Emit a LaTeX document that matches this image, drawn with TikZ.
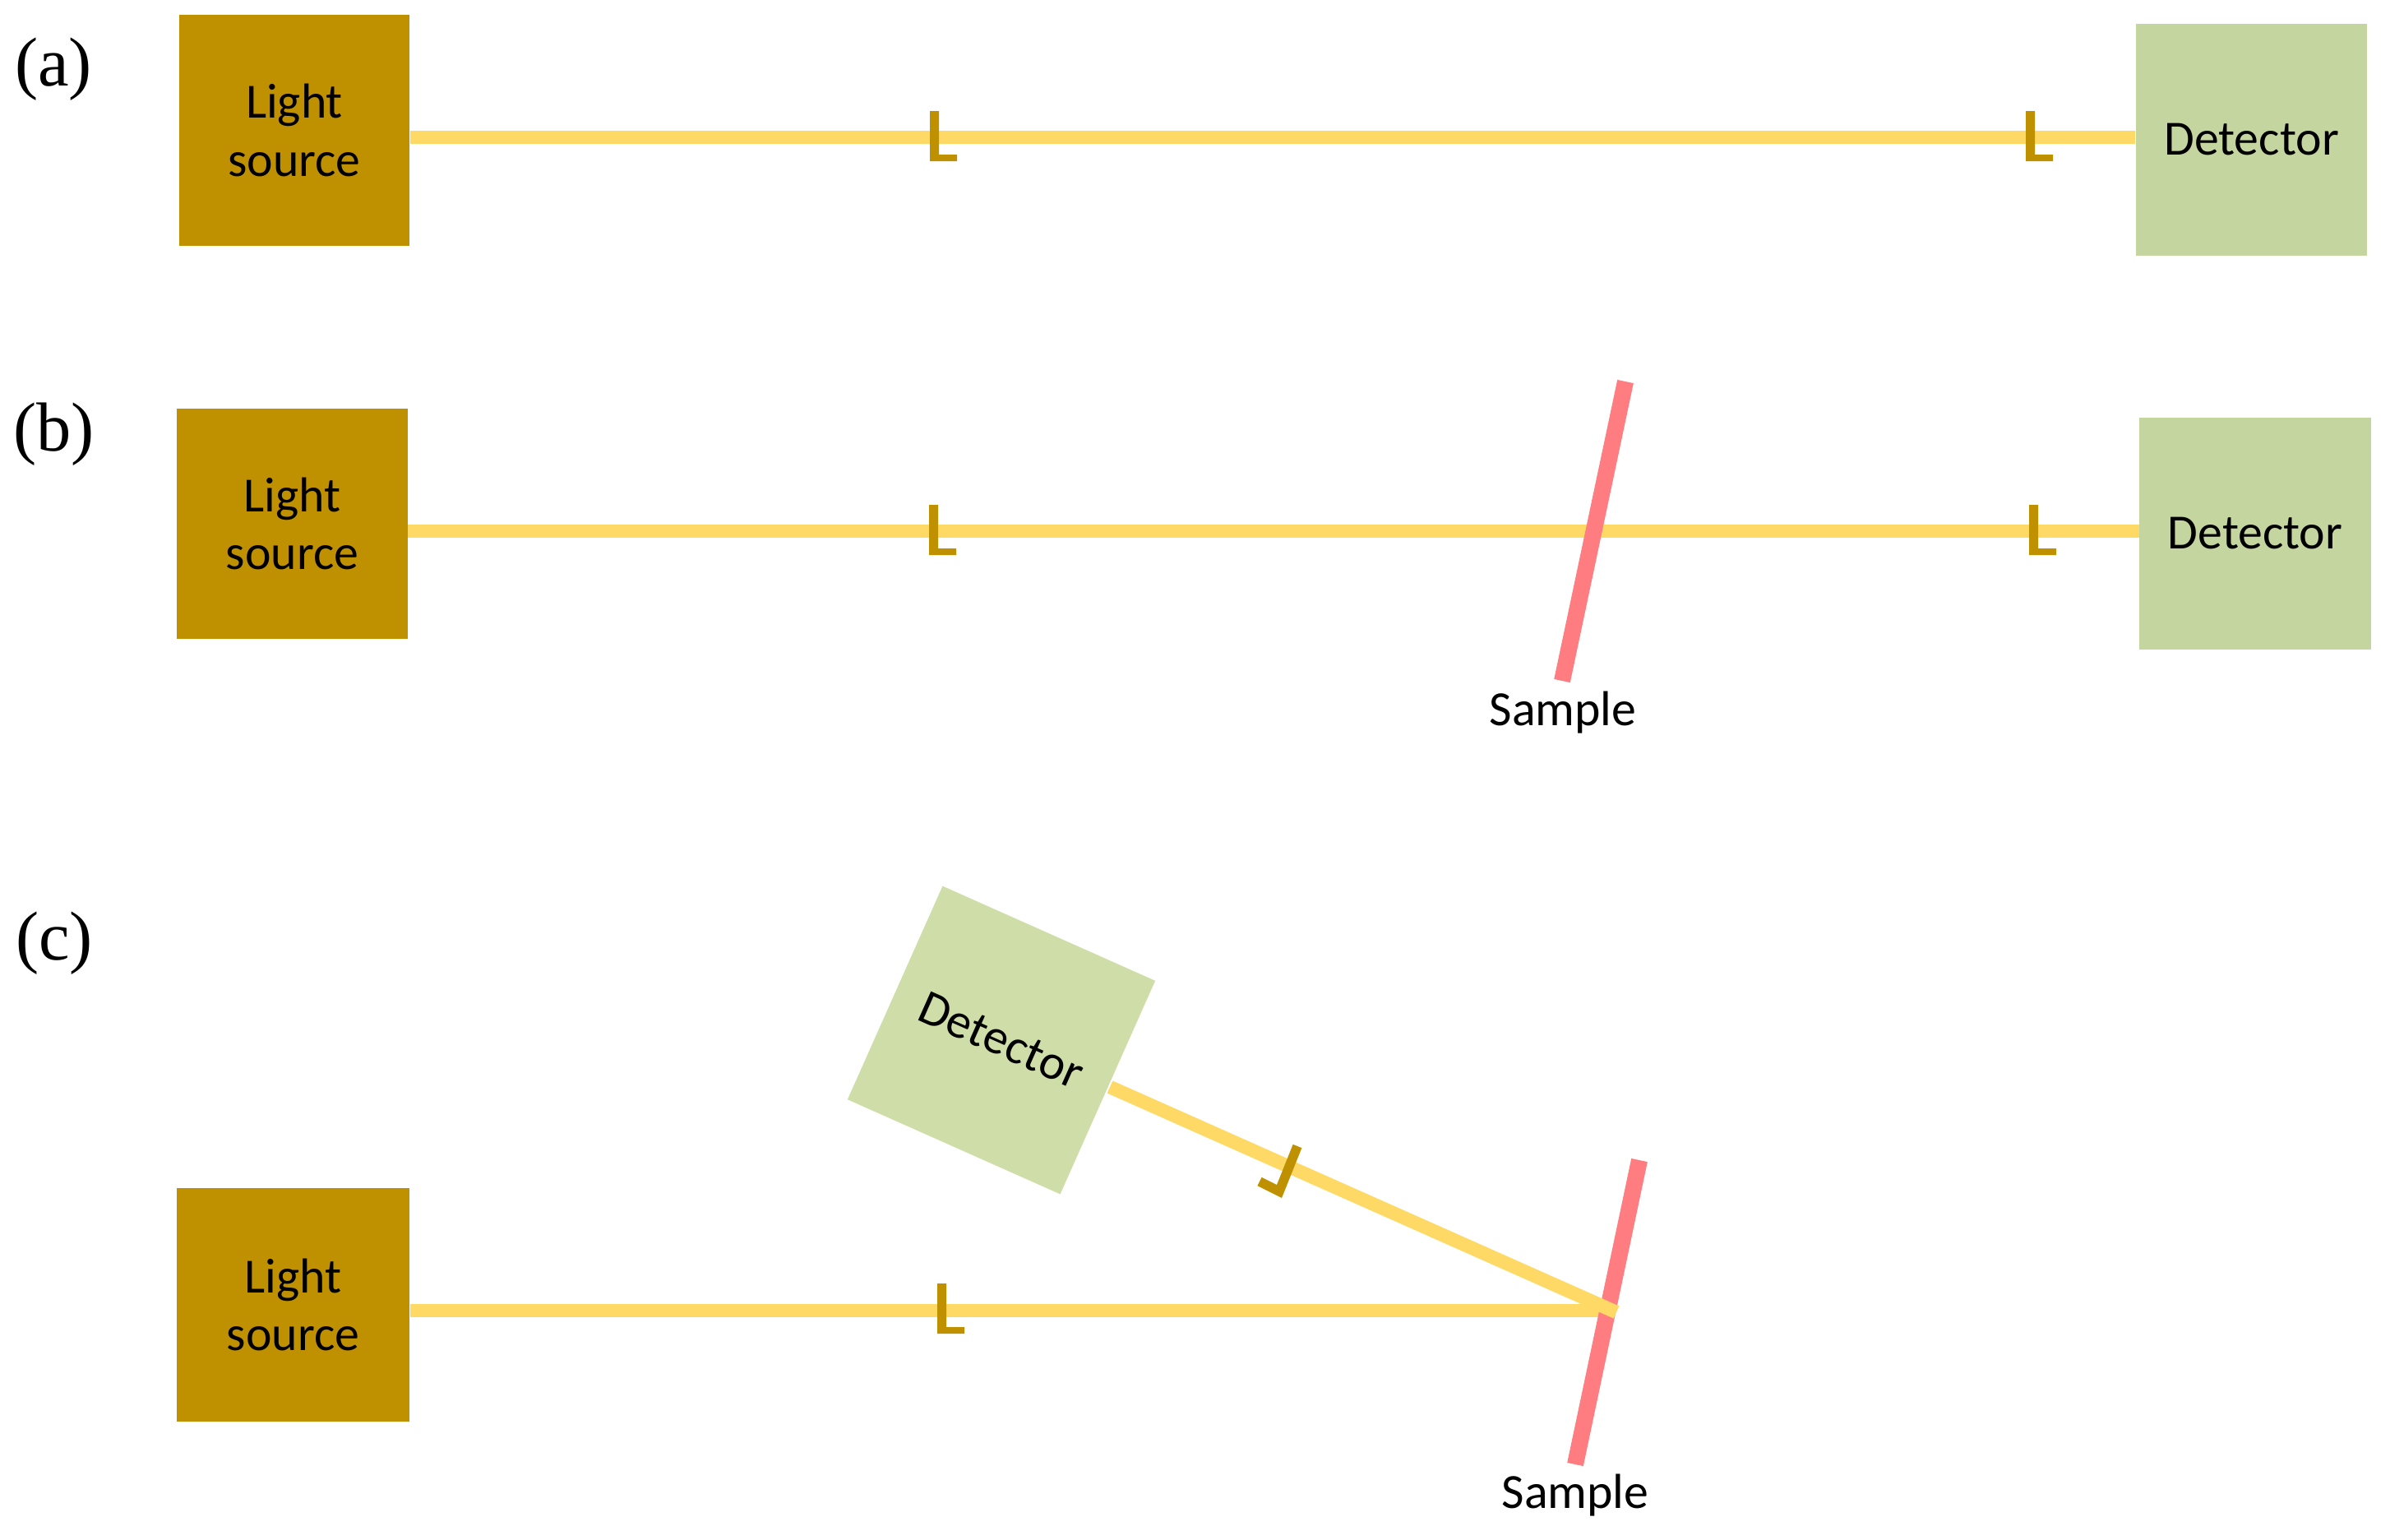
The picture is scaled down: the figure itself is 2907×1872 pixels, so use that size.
\documentclass[tikz,border=0pt]{standalone}
\usepackage{fontspec}
\setmainfont{Carlito}
\newfontfamily\panelfont{Liberation Serif}
\definecolor{srcbrown}{HTML}{BF9000}
\definecolor{beamyellow}{HTML}{FFD966}
\definecolor{detgreen}{HTML}{C5D5A0}
\definecolor{detgreenb}{HTML}{CFDEA9}
\definecolor{samplepink}{HTML}{FF7C80}
\tikzset{
  x=0.01cm,y=-0.01cm,
  boxbase/.style={minimum width=2.81cm,minimum height=2.81cm,inner sep=0pt,align=center,font=\fontsize{17}{20}\selectfont},
  srcbox/.style={boxbase,fill=srcbrown},
  detbox/.style={boxbase,fill=detgreen},
  beamline/.style={draw=beamyellow,line width=0.165cm},
  sampleline/.style={draw=samplepink,line width=0.2cm},
  lensline/.style={draw=srcbrown,line width=0.115cm,miter limit=10},
  panel/.style={font=\panelfont\fontsize{24}{28}\selectfont,inner sep=0pt},
  samplelabel/.style={font=\fontsize{17}{20}\selectfont,inner sep=0pt},
  lensmark/.pic={\fill[srcbrown] (0,0)--(11,0)--(11,53)--(33,53)--(33,61)--(0,61)--cycle;}
}
\begin{document}
\begin{tikzpicture}
\useasboundingbox (0,0) rectangle (2907,1872);
% panel a
\node[panel] (la) at (65,84) {(a)};
\node[srcbox,minimum width=2.80cm] (srcA) at (358,158.5) {Light\\source};
\node[detbox,minimum height=2.82cm] (detA) at (2738.5,170) {Detector};
\coordinate (ya) at (0,167);
\draw[beamline] (srcA.east |- ya) -- (detA.west |- ya);
\pic at (1131,135) {lensmark};
\pic at (2464,135) {lensmark};
% panel b
\node[panel] (lb) at (65.5,528) {(b)};
\node[srcbox,minimum height=2.80cm,minimum width=2.80cm] (srcB) at (355.5,637) {Light\\source};
\node[detbox,minimum height=2.82cm] (detB) at (2743,649) {Detector};
\coordinate (yb) at (0,646);
\draw[beamline] (srcB.east |- yb) -- (detB.west |- yb);
\pic at (1130,614) {lensmark};
\pic at (2468,614) {lensmark};
\coordinate (sbt) at (1977,464);
\coordinate (sbb) at (1900,828);
\draw[sampleline] (sbt) -- (sbb);
\node[samplelabel] (sampleB) at (1901,867) {Sample};
% panel c
\node[panel] (lc) at (66,1147) {(c)};
\node[srcbox,minimum height=2.84cm,minimum width=2.83cm] (srcC) at (356.5,1587) {Light\\source};
\node[boxbase,fill=detgreenb,rotate=-24,minimum width=2.83cm,minimum height=2.84cm] (detC) at (1218,1265) {Detector};
\coordinate (yc) at (0,1594);
\coordinate (hit) at (1958,1594);
\draw[beamline] (srcC.east |- yc) -- (hit);
\pic at (1140,1561) {lensmark};
\coordinate (sct) at (1994,1411);
\coordinate (scb) at (1916,1781);
\draw[sampleline] (sct) -- (scb);
\coordinate (dbeam) at (1350,1322);
\coordinate (dhit) at (1966,1596);
\draw[beamline] (dbeam) -- (dhit);
\draw[lensline] (1578,1394) -- (1556,1449) -- (1532,1437);
\node[samplelabel] (sampleC) at (1916,1819) {Sample};
\end{tikzpicture}
\end{document}
